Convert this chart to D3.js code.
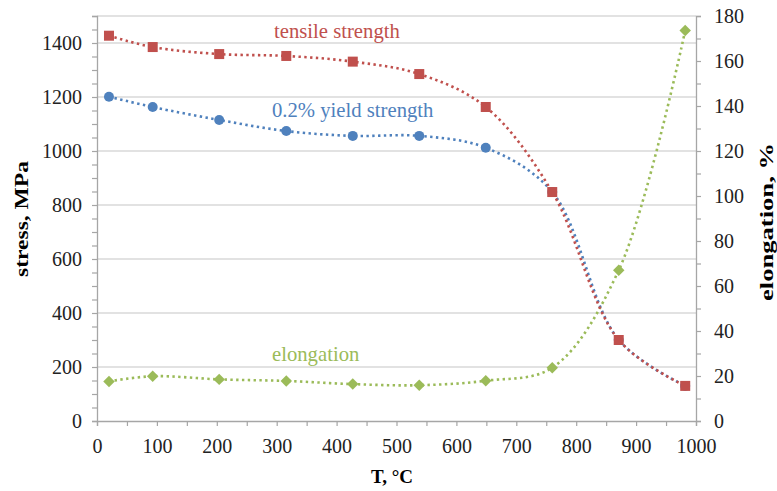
<!DOCTYPE html>
<html><head><meta charset="utf-8">
<script src="https://cdn.jsdelivr.net/npm/d3@7"></script>
<style>body{margin:0;background:#fff}svg{display:block}svg text{font-family:"Liberation Serif","Times New Roman",serif}</style>
</head><body><svg id="c" width="777" height="491"></svg>
<script>
const temps = [20, 93, 204, 316, 427, 538, 649, 760, 871, 982];
const tensile = [1427, 1385, 1359, 1352, 1331, 1285, 1163, 848, 300, 130];
const yieldS = [1201, 1163, 1115, 1074, 1056, 1056, 1012, 848, 300, 130];
const elongation = [17.6, 19.9, 18.5, 17.8, 16.4, 15.9, 17.9, 23.7, 67, 173.6];
const xTicks = [0,100,200,300,400,500,600,700,800,900,1000];
const yTicks = [0,200,400,600,800,1000,1200,1400];
const y2Ticks = [0,20,40,60,80,100,120,140,160,180];

const svg = d3.select('#c');
const L=97, R=696, T=16, B=421;
const x = d3.scaleLinear().domain([0,1000]).range([L,R]);
const y = d3.scaleLinear().domain([0,1500]).range([B,T]);
const y2 = d3.scaleLinear().domain([0,180]).range([B,T]);
const font = '"Liberation Serif","Times New Roman",serif';
const axisCol = '#a6a6a6', gridCol = '#d9d9d9';
const red='#C0504D', blue='#4F81BD', green='#9BBB59';

// gridlines
svg.append('g').selectAll('line').data(yTicks.filter(d=>d>0).concat([1500])).join('line')
  .attr('x1',L).attr('x2',R).attr('y1',d=>y(d)).attr('y2',d=>y(d))
  .attr('stroke',gridCol).attr('stroke-width',1.3);

// axes
const gl = svg.append('g').attr('transform',`translate(${L},0)`)
  .call(d3.axisLeft(y).tickValues(d3.range(0,1501,50)).tickSize(5).tickFormat(d=> yTicks.includes(d)?d:''));
const gb = svg.append('g').attr('transform',`translate(0,${B})`)
  .call(d3.axisBottom(x).tickValues(d3.range(0,1001,50)).tickSize(5).tickFormat(d=> xTicks.includes(d)?d:''));
const gr = svg.append('g').attr('transform',`translate(${R},0)`)
  .call(d3.axisRight(y2).tickValues(d3.range(0,181,10)).tickSize(5).tickFormat(d=> y2Ticks.includes(d)?d:''));
[gl,gb,gr].forEach(g=>{
  g.attr('font-family',null).attr('font-size',null);
  g.select('.domain').attr('stroke',axisCol).attr('stroke-width',1.3);
  g.selectAll('.tick line').attr('stroke',axisCol).attr('stroke-width',1.2);
  g.selectAll('text').style('font-family',font).style('font-size','20px').attr('fill','#222');
});
gl.selectAll('text').attr('x',-15).attr('dy','0.34em');
gb.selectAll('text').attr('y',32).attr('dy',null);
gr.selectAll('text').attr('x',18).attr('dy','0.34em');

// curves
const curve = d3.curveCatmullRom.alpha(0.5);
function series(vals, sc, col){
  const line = d3.line().x((d,i)=>x(temps[i])).y(d=>sc(d)).curve(curve);
  svg.append('path').datum(vals).attr('d',line).attr('fill','none')
    .attr('stroke',col).attr('stroke-width',2.6).attr('stroke-dasharray','2.4,3.4');
}
series(elongation, y2, green);
series(yieldS, y, blue);
series(tensile, y, red);

// markers
svg.append('g').selectAll('path').data(elongation).join('path')
  .attr('d', d3.symbol(d3.symbolSquare, 66))
  .attr('transform',(d,i)=>`translate(${x(temps[i])},${y2(d)}) rotate(45)`)
  .attr('fill',green);
svg.append('g').selectAll('circle').data(yieldS).join('circle')
  .attr('cx',(d,i)=>x(temps[i])).attr('cy',d=>y(d)).attr('r',5).attr('fill',blue);
svg.append('g').selectAll('rect').data(tensile).join('rect')
  .attr('x',(d,i)=>x(temps[i])-5).attr('y',d=>y(d)-5).attr('width',10).attr('height',10).attr('fill',red);

// series labels
const lab = (t,xx,yy,col)=>svg.append('text').attr('x',xx).attr('y',yy).attr('fill',col)
  .style('font-family',font).style('font-size','20.7px').text(t);
lab('tensile strength',274,38,red);
lab('0.2% yield strength',272,117,blue);
lab('elongation',272,361,green);

// axis titles
const title = (t, tr, len) => {
  const s = svg.append('text').attr('transform',tr).attr('text-anchor','middle')
    .style('font-family',font).style('font-size','19px').style('font-weight','bold').text(t);
  if (len) s.attr('textLength',len).attr('lengthAdjust','spacingAndGlyphs');
  return s;
};
title('stress, MPa','translate(28,219) rotate(-90)',116);
title('elongation, %','translate(773,222) rotate(-90)',158);
title('T, °C','translate(392,483)');
</script></body></html>
